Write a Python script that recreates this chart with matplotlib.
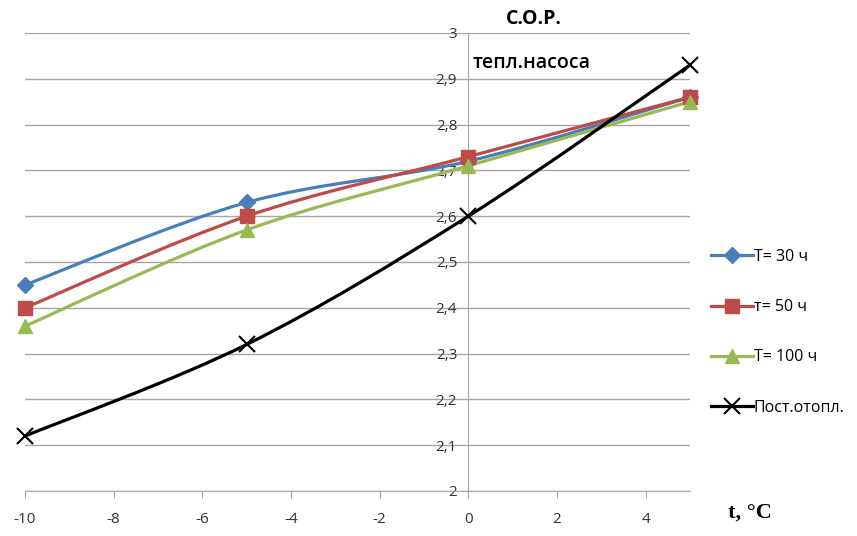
import numpy as np
import matplotlib.pyplot as plt
from matplotlib.path import Path
from matplotlib.patches import PathPatch
from matplotlib.lines import Line2D
from matplotlib.ticker import FuncFormatter

plt.rcParams['font.family'] = ['Open Sans', 'DejaVu Sans']
plt.rcParams['axes.unicode_minus'] = False

t = [-10, -5, 0, 5]
cop_30 = [2.45, 2.63, 2.72, 2.86]
cop_50 = [2.40, 2.60, 2.73, 2.86]
cop_100 = [2.36, 2.57, 2.71, 2.85]
cop_post = [2.12, 2.32, 2.60, 2.93]

labels = ['T= 30 ч', 'т= 50 ч', 'T= 100 ч', 'Пост.отопл.']
colors = ['#4a7ebb', '#be4b48', '#98b954', '#000000']
markers = ['D', 's', '^', 'x']
msizes = [8, 10, 10, 12]


def smooth_path(x, y):
    # excel-like smoothed line: catmull-rom segments as bezier curves
    x = np.asarray(x, float)
    y = np.asarray(y, float)
    verts = [(x[0], y[0])]
    codes = [Path.MOVETO]
    n = len(x)
    for i in range(n - 1):
        x0, y0 = (x[i - 1], y[i - 1]) if i > 0 else (x[i], y[i])
        x3, y3 = (x[i + 2], y[i + 2]) if i + 2 < n else (x[i + 1], y[i + 1])
        c1 = (x[i] + (x[i + 1] - x0) / 6, y[i] + (y[i + 1] - y0) / 6)
        c2 = (x[i + 1] - (x3 - x[i]) / 6, y[i + 1] - (y3 - y[i]) / 6)
        verts += [c1, c2, (x[i + 1], y[i + 1])]
        codes += [Path.CURVE4] * 3
    return Path(verts, codes)


fig = plt.figure(figsize=(8.57, 5.36), dpi=100)
ax = fig.add_axes([25 / 857, 45 / 536, 665 / 857, 458 / 536])

series = [cop_30, cop_50, cop_100, cop_post]
handles = []
for vals, lab, c, m, ms in zip(series, labels, colors, markers, msizes):
    mew = 1.5 if m == 'x' else 1
    ax.add_patch(PathPatch(smooth_path(t, vals), fill=False, edgecolor=c,
                           lw=2.3, zorder=3, capstyle='round'))
    ax.plot(t, vals, color=c, marker=m, ms=ms, mew=mew,
            ls='none', zorder=4, clip_on=False)
    handles.append(Line2D([], [], color=c, lw=2.3, marker=m, ms=ms, mew=mew, label=lab))

ax.set_xlim(-10, 5)
ax.set_ylim(2, 3)
ax.set_xticks(range(-10, 5, 2))
ax.set_yticks(np.arange(2, 3.01, 0.1))
ax.yaxis.set_major_formatter(FuncFormatter(lambda v, p: ('%.1f' % v).rstrip('0').rstrip('.').replace('.', ',')))
ax.grid(axis='y', color='#a6a6a6', lw=1)
ax.set_axisbelow(True)

ax.spines['left'].set_position(('data', 0))
ax.spines['left'].set_color('#a6a6a6')
ax.spines['bottom'].set_color('#a6a6a6')
ax.spines['top'].set_visible(False)
ax.spines['right'].set_visible(False)
ax.tick_params(axis='y', length=0, labelsize=11, pad=8, colors='#333333')
ax.tick_params(axis='x', length=5, color='#a6a6a6', labelsize=11, pad=10, colors='#333333')

ax.text(0.85, 3.03, 'С.О.Р.', fontsize=14, fontweight='bold', ha='left', va='center')
ax.text(0.1, 2.935, 'тепл.насоса', fontsize=14, fontweight='semibold', ha='left', va='center')

fig.legend(handles=handles, loc='center left', bbox_to_anchor=(697 / 857, 0.38), frameon=False,
           fontsize=11.5, labelspacing=2.15, handlelength=2.6, handletextpad=0.05)
fig.text(728 / 857, 0.025, 't, °C', fontsize=16, fontweight='bold',
         family='Liberation Serif', ha='left', va='bottom')

fig.savefig('out.png', dpi=100)
